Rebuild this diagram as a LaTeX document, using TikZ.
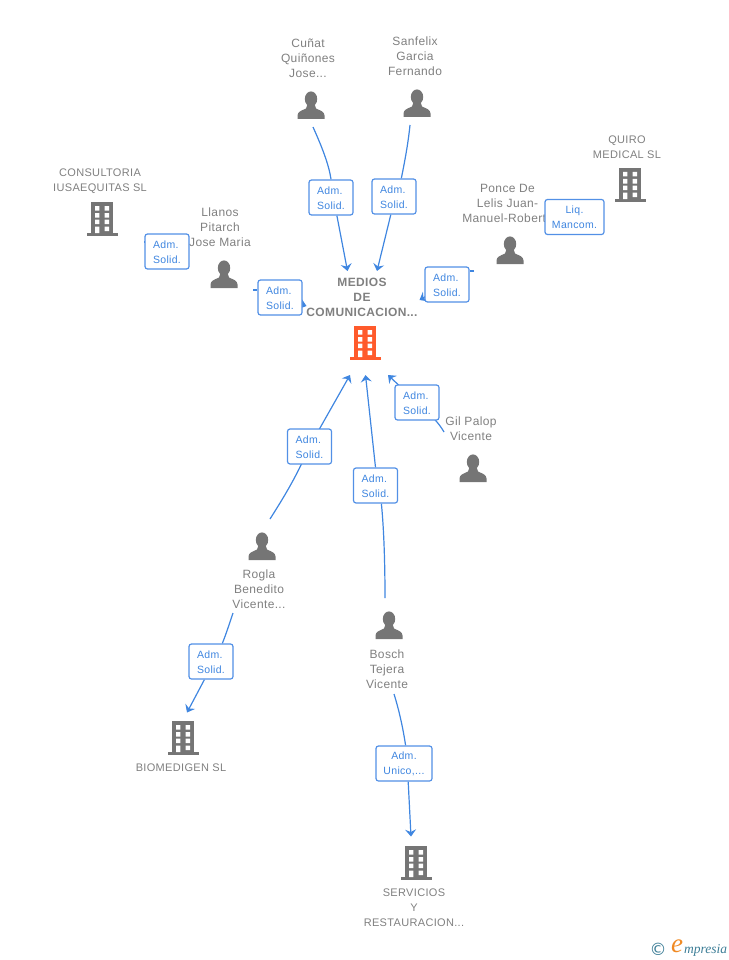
\documentclass[tikz,border=0pt]{standalone}
\usepackage{fontspec}
\setmainfont{Liberation Sans}
\newfontfamily\lblfont[LetterSpace=3]{Liberation Sans}
\newfontfamily\boxfont[LetterSpace=3]{Liberation Sans}
\newfontfamily\logofont{Liberation Serif}
\newfontfamily\copyfont{DejaVu Sans}
\usetikzlibrary{arrows.meta,backgrounds}
\definecolor{txtgray}{HTML}{808080}
\definecolor{icongray}{HTML}{757575}
\definecolor{linkblue}{HTML}{3F86E0}
\definecolor{boxblue}{HTML}{5290E6}
\definecolor{orangeicon}{HTML}{FF5A2B}
\definecolor{logoteal}{HTML}{3C7D96}
\definecolor{logoorange}{HTML}{F08A24}
\tikzset{
  x=1pt,y=-1pt,
  personlabel/.style={text=txtgray,align=center,inner sep=0pt,font=\lblfont\fontsize{12}{15}\selectfont},
  companylabel/.style={text=txtgray,align=center,inner sep=0pt,font=\lblfont\fontsize{11}{15}\selectfont},
  mainlabel/.style={text=txtgray,align=center,inner sep=0pt,font=\lblfont\bfseries\fontsize{12}{15}\selectfont},
  rolebox/.style={draw=boxblue,line width=1.2pt,rounded corners=2.5pt,fill=white,
    text=linkblue,align=center,inner sep=0pt,minimum height=35pt,text height=24pt,font=\boxfont\fontsize{10.5}{15}\selectfont},
  solidbox/.style={rolebox,align=left,minimum width=44pt},
  link/.style={draw=linkblue,line width=1.2pt},
  arrowlink/.style={link,-{Stealth[width=11pt,length=7pt,inset=2.5pt]}},
  person/.pic={
    \fill[icongray] (0,7) ellipse [x radius=6.2,y radius=7.6];
    \fill[icongray] (-13.5,27) -- (-13.5,23.5) .. controls (-13.5,19.5) and (-9,18.5) .. (-5,16.5)
      -- (-3.5,12) -- (3.5,12) -- (5,16.5)
      .. controls (9,18.5) and (13.5,19.5) .. (13.5,23.5) -- (13.5,27) -- cycle;
  },
  building/.pic={
    \fill[pic actions] (-11,0) rectangle (11,31);
    \fill[pic actions] (-15.5,31) rectangle (15.5,34);
    \fill[white] (-7,4) rectangle (-2.7,8.5) (2.7,4) rectangle (7,8.5)
      (-7,11) rectangle (-2.7,15.5) (2.7,11) rectangle (7,15.5)
      (-7,17.5) rectangle (-2.7,22) (2.7,17.5) rectangle (7,22)
      (-7,24.5) rectangle (-2.7,31) (2.7,24.5) rectangle (7,29);
  },
}
\begin{document}
\begin{tikzpicture}
\useasboundingbox (0,0) rectangle (728,960);

% labels
\node[personlabel] (cunatlbl) at (308,58) {Cuñat\\Quiñones\\Jose...};
\node[personlabel] (sanfelixlbl) at (415,56) {Sanfelix\\Garcia\\Fernando};
\node[personlabel] (llanoslbl) at (220,227) {Llanos\\Pitarch\\Jose Maria};
\node[personlabel] (poncelbl) at (507.5,203) {Ponce De\\Lelis Juan-\\Manuel-Robert\phantom{o}};
\node[personlabel] (gillbl) at (471,428.5) {Gil Palop\\Vicente};
\node[personlabel] (roglalbl) at (259,589) {Rogla\\Benedito\\Vicente...};
\node[personlabel] (boschlbl) at (387,669) {Bosch\\Tejera\\Vicente};
\node[companylabel] (consultorialbl) at (100,181.5) {CONSULTORIA\\IUSAEQUITAS SL};
\node[companylabel] (quirolbl) at (627,147.5) {QUIRO\\MEDICAL SL};
\node[mainlabel] (medioslbl) at (362,297) {MEDIOS\\DE\\COMUNICACION...};
\node[companylabel] (biomedigenlbl) at (181,768) {BIOMEDIGEN SL};
\node[companylabel] (servicioslbl) at (414,908) {SERVICIOS\\Y\\RESTAURACION...};

% icons
\pic at (311,92) {person};
\pic at (417,90) {person};
\pic at (224,261) {person};
\pic at (510,237) {person};
\pic at (473,455) {person};
\pic at (262,533) {person};
\pic at (389,612) {person};
\pic[fill=icongray] at (102,202) {building};
\pic[fill=icongray] at (630,168) {building};
\pic[fill=orangeicon] at (365,326) {building};
\pic[fill=icongray] at (183,721) {building};
\pic[fill=icongray] at (416,846) {building};

% role boxes
\node[solidbox] (bcunat) at (331,197.5) {Adm.\\Solid.};
\node[solidbox] (bsanfelix) at (394,196.5) {Adm.\\Solid.};
\node[solidbox] (bllanos) at (280,297.5) {Adm.\\Solid.};
\node[solidbox] (bconsult) at (167,251.5) {Adm.\\Solid.};
\node[solidbox] (bponce) at (447,284.5) {Adm.\\Solid.};
\node[rolebox,minimum width=59pt] (bquiro) at (574.5,217) {Liq.\\Mancom.};
\node[solidbox] (bgil) at (417,402.5) {Adm.\\Solid.};
\node[solidbox] (broglaup) at (309.5,446.5) {Adm.\\Solid.};
\node[solidbox] (bboschup) at (375.5,485.5) {Adm.\\Solid.};
\node[solidbox] (brogladown) at (211,661.5) {Adm.\\Solid.};
\node[rolebox,minimum width=56pt] (bboschdown) at (404,763.5) {Adm.\\Unico,...};

% free ends
\coordinate (scunat) at (313,127);
\coordinate (ecunat) at (347.5,271);
\coordinate (ssanfelix) at (410,125);
\coordinate (esanfelix) at (377,271);
\coordinate (sllanos) at (253,290);
\coordinate (emedleft) at (306.5,306);
\coordinate (sconsult) at (144,242);
\coordinate (sponce) at (474,271);
\coordinate (emedright) at (419.5,300);
\coordinate (sgil) at (444,432);
\coordinate (egil) at (388,375);
\coordinate (sroglaup) at (270,519);
\coordinate (eroglaup) at (350,375);
\coordinate (sboschup) at (385,598);
\coordinate (eboschup) at (365.5,375);
\coordinate (srogladown) at (233,613);
\coordinate (erogladown) at (187,712.5);
\coordinate (sboschdown) at (394,694);
\coordinate (eboschdown) at (411,836.5);

\begin{scope}[on background layer]
\draw[link] (scunat) .. controls (322,147) and (329,165) .. (bcunat.north);
\draw[arrowlink] (bcunat.-72) -- (ecunat);
\draw[link] (ssanfelix) .. controls (408,145) and (404,165) .. (bsanfelix.68);
\draw[arrowlink] (bsanfelix.-100) -- (esanfelix);
\draw[link] (sllanos) -- (bllanos.west |- sllanos);
\draw[arrowlink] (bllanos.center) -- (emedleft);
\draw[link] (sconsult) -- (bconsult.west |- sconsult);
\draw[link] (sponce) -- (bponce.east |- sponce);
\draw[arrowlink] (bponce.center) -- (emedright);
\draw[link] (sgil) .. controls (441,427) and (437,420) .. (bgil.center);
\draw[arrowlink] (bgil.center) -- (egil);
\draw[link] (sroglaup) .. controls (282,500) and (296,478) .. (broglaup.center);
\draw[arrowlink] (broglaup.center) -- (eroglaup);
\draw[link] (sboschup) .. controls (385,565) and (384,530) .. (bboschup.-72);
\draw[arrowlink] (bboschup.north) -- (eboschup);
\draw[link] (srogladown) .. controls (229,625) and (225,637) .. (brogladown.58);
\draw[arrowlink] (brogladown.-110) -- (erogladown);
\draw[link] (sboschdown) .. controls (399,710) and (403,728) .. (bboschdown.85);
\draw[arrowlink] (bboschdown.-77) -- (eboschdown);
\end{scope}

% logo
\node[inner sep=0pt,text=logoteal,font=\copyfont\fontsize{17}{17}\selectfont] (logoc) at (658,949) {©};
\node[inner sep=0pt,text=logoorange,font=\logofont\itshape\fontsize{27}{27}\selectfont] (logoe) at (677,946) {e};
\node[inner sep=0pt,anchor=west,text=logoteal,font=\logofont\itshape\fontsize{13.5}{14}\selectfont] (logot) at (684,950) {mpresia};
\end{tikzpicture}
\end{document}
